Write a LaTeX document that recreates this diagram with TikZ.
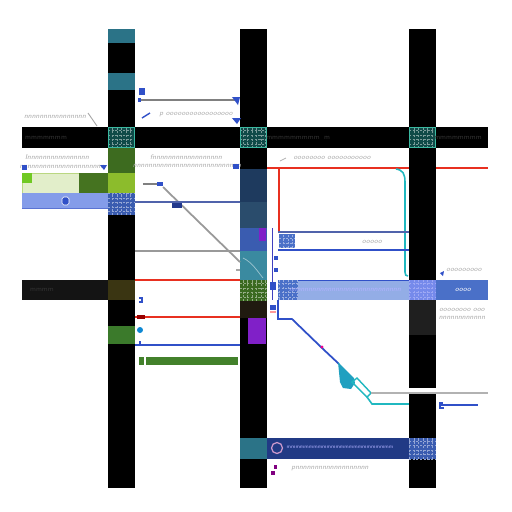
\documentclass[tikz,border=0pt]{standalone}
\usetikzlibrary{arrows.meta}
\definecolor{tealA}{HTML}{2B7387}
\definecolor{tealdk}{HTML}{0F4A48}
\definecolor{tealln}{HTML}{3AB8A0}
\definecolor{navy}{HTML}{1E3A5E}
\definecolor{navy2}{HTML}{2A4C6C}
\definecolor{bluemid}{HTML}{3A5CB0}
\definecolor{bluelt}{HTML}{93ADE6}
\definecolor{blueband}{HTML}{4A70C8}
\definecolor{bluedk}{HTML}{213A85}
\definecolor{tealB}{HTML}{3A8AA0}
\definecolor{olive}{HTML}{3A6A20}
\definecolor{browndk}{HTML}{201A10}
\definecolor{purp}{HTML}{8020C8}
\definecolor{greenA}{HTML}{3D6B1F}
\definecolor{lime}{HTML}{8CBC2C}
\definecolor{olivedk}{HTML}{3A3512}
\definecolor{greenB}{HTML}{3B7A2B}
\definecolor{redln}{HTML}{E83020}
\definecolor{cyanln}{HTML}{20B8C0}
\definecolor{tealfill}{HTML}{20A0C0}
\definecolor{lineblue}{HTML}{3050C8}
\newcommand\patcell[5]{%
  \fill[#5] (#1,#2) rectangle (#3,#4);
  \begin{scope}
  \clip (#1,#2) rectangle (#3,#4);
  \draw[white!45!#5, line width=0.3pt, dash pattern=on 1.2pt off 0.9pt] (#1,#2) grid[step=0.09cm] (#3,#4);
  \end{scope}}
\begin{document}
\begin{tikzpicture}[x=0.02cm,y=-0.02cm,
  txt/.style={font=\fontsize{4}{4.5}\selectfont\sffamily\itshape, text=gray!65, inner sep=0pt},
  dtxt/.style={font=\fontsize{4}{4.5}\selectfont\sffamily, text=gray!40!black, inner sep=0pt},
  ln/.style={line width=0.7pt}]
\useasboundingbox (0,0) rectangle (512,512);
\fill[white] (0,0) rectangle (512,512);
% columns and bands
\fill[black] (108,29) rectangle (135,488);
\fill[black] (240,29) rectangle (267,488);
\fill[black] (409,29) rectangle (436,388);
\fill[black] (409,394) rectangle (436,488);
\fill[black] (22,127) rectangle (488,148);
\fill[black!92] (22,280) rectangle (108,300);
% column A cells
\fill[tealA] (108,29) rectangle (135,43);
\fill[tealA] (108,73) rectangle (135,90);
\patcell{108}{127}{135}{148}{tealdk}
\draw[tealln,line width=0.5pt] (108.5,127.5) rectangle (134.5,147.5);
\fill[greenA] (108,148) rectangle (135,173);
\fill[lime] (108,173) rectangle (135,193);
\patcell{108}{193}{135}{215}{bluemid}
\fill[olivedk] (108,280) rectangle (135,300);
\fill[greenB] (108,326) rectangle (135,344);
% left rows
\fill[lime!25] (22,173) rectangle (79,193);
\draw[lime!60,line width=0.5pt] (22,173) rectangle (79,193);
\fill[lime!80!green] (22,173) rectangle (32,183);
\fill[greenA!90!lime] (79,173) rectangle (108,193);
\fill[bluelt!90!blue] (22,193) rectangle (108,208);
\draw[lineblue!80,line width=0.4pt] (22,208) -- (108,208);
\draw[white,fill=lineblue,rounded corners=1pt,line width=0.3pt] (62,197) rectangle (69,205);
% column B cells
\patcell{240}{127}{267}{148}{tealdk}
\draw[tealln,line width=0.5pt] (240.5,127.5) rectangle (266.5,147.5);
\fill[navy] (240,169) rectangle (267,202);
\fill[navy2] (240,202) rectangle (267,228);
\fill[bluemid] (240,228) rectangle (267,251);
\fill[purp] (259,228) rectangle (266,241);
\fill[tealB] (240,251) rectangle (267,280);
\draw[tealB!50!white,line width=0.4pt] (243,258) .. controls (252,262) and (258,272) .. (263,278);
\patcell{240}{280}{267}{301}{olive}
\fill[browndk] (240,301) rectangle (267,318);
\fill[purp] (248,318) rectangle (266,344);
\fill[tealA] (240,438) rectangle (267,459);
% column C cells
\patcell{409}{127}{436}{148}{tealdk}
\draw[tealln,line width=0.5pt] (409.5,127.5) rectangle (435.5,147.5);
\patcell{409}{280}{436}{300}{bluelt!80!blue}
\fill[black!88] (409,300) rectangle (436,335);
\patcell{409}{438}{436}{459}{bluemid}
% middle band
\fill[bluelt] (278,280) rectangle (409,300);
\draw[lineblue,line width=0.5pt] (278,280) -- (409,280);
\patcell{278}{280}{298}{300}{blueband}
\fill[blueband] (436,280) rectangle (488,300);
% bottom band
\fill[bluedk] (267,438) rectangle (409,459);
\draw[violet!40!white,line width=0.7pt] (277,448) circle (5.5);
\node[font=\fontsize{3}{3}\selectfont\sffamily, text=blue!30!white, inner sep=0pt] (bbt) at (340,447) {mmmmmmmmmmmmmmmmmmmmmmmm};
% ---- left region lines
\draw[gray,ln] (138,100) -- (236,100);
\fill[lineblue] (139,88) rectangle (145,95);
\fill[lineblue] (232,97) -- (240,97) -- (238,105) -- cycle;
\fill[lineblue] (138,98) rectangle (141,102);
\draw[lineblue,line width=0.8pt] (142,118) -- (150,113);
\fill[lineblue] (232,118) -- (241,118) -- (237,124) -- cycle;
\draw[gray!70,line width=0.5pt] (88,113) -- (97,126);
\draw[gray,ln] (143,184) -- (157,184);
\fill[lineblue] (157,182) rectangle (163,186);
\draw[gray!80,line width=1pt] (163,187) -- (240,262);
\fill[lineblue!70!black] (172,203) rectangle (182,208);
\draw[lineblue!60!gray,ln] (135,202) -- (240,202);
\draw[gray!80,ln] (135,251) -- (240,251);
\draw[redln,ln] (135,280) -- (240,280);
\draw[redln,ln] (135,317) -- (240,317);
\fill[red!60!black] (137,315) rectangle (145,319);
\draw[lineblue,ln] (135,345) -- (240,345);
\draw[lineblue,line width=0.6pt] (140,341) -- (140,345);
\fill[cyan!70!blue] (140,330) circle (3);
\draw[lineblue,line width=0.6pt] (139,298) -- (142,298) -- (142,302) -- (139,302);
\fill[greenB!90!lime] (139,357) rectangle (144,365);
\fill[greenB!90!lime] (146,357) rectangle (238,365);
\fill[gray!70] (236,269) rectangle (240,271);
% ---- right region lines
\draw[redln,ln] (267,168) -- (409,168);
\draw[redln,ln] (436,168) -- (488,168);
\draw[redln,ln] (279,168) -- (279,232);
\draw[cyanln,line width=0.9pt] (396,169) .. controls (403,170) and (405,174) .. (405,182) -- (405,272) .. controls (405,275) and (406,276) .. (408,276);
\draw[lineblue!60!gray,ln] (278,232) -- (409,232);
\draw[lineblue,line width=0.9pt] (278,250) -- (409,250);
\patcell{279}{234}{295}{248}{blueband}
\draw[gray!50!blue,line width=0.4pt] (272,228) -- (272,300);
\fill[lineblue] (274,256) rectangle (278,260);
\fill[lineblue] (274,268) rectangle (278,272);
\fill[lineblue] (270,282) rectangle (276,290);
\fill[lineblue] (270,305) rectangle (276,310);
\fill[red!40] (270,311) rectangle (276,313);
\draw[lineblue,line width=1pt] (278,300) -- (278,319) -- (292,319) -- (322,348) -- (339,364);
\fill[magenta] (322,347) circle (1.6);
\fill[tealfill] (338,362) -- (354,378) -- (355,383) -- (351,389) -- (343,388) -- (340,382) -- cycle;
\draw[cyanln,line width=0.8pt] (352,382) -- (357,378) -- (371,393) -- (367,397) -- cycle;
\draw[cyanln,line width=0.9pt] (367,397) -- (372,404) -- (409,404);
\draw[gray!60,line width=0.8pt] (371,393) -- (488,393);
\draw[lineblue,ln] (440,405) -- (478,405);
\draw[lineblue,line width=0.6pt] (443,403) -- (440,403) -- (440,408) -- (444,408);
\fill[lineblue] (440,273) -- (444,271) -- (443,276) -- cycle;
\fill[violet] (274,465) rectangle (277,469);
\fill[violet] (271,471) rectangle (275,475);
% ---- texts
\node[txt] (t1) at (55,117) {nnnnnnnnnnnnnnnn};
\node[dtxt] (t2) at (43,138) {mmmmmm};
\node[dtxt] (t2b) at (64,138) {m};
\node[dtxt] (t3) at (293,138) {mmmmmmmmm};
\node[dtxt] (t3b) at (327,138) {m};
\node[dtxt] (t4) at (458,138) {mmmmmmmm};
\node[txt] (t5) at (57,157) {Innnnnnnnnnnnnnnn};
\node[txt] (t6) at (62,167) {nnnnnnnnnnnnnnnnnnnnnn};
\fill[lineblue] (22,165) rectangle (27,170);
\fill[lineblue] (100,165) -- (107,165) -- (104,170) -- cycle;
\node[txt] (t7) at (196,115) {p ooooooooooooooooo};
\node[txt] (t8) at (186,157) {fnnnnnnnnnnnnnnnnnn};
\node[txt] (t9) at (187,166) {nnnnnnnnnnnnnnnnnnnnnnnnnnnn};
\fill[lineblue] (233,164) rectangle (239,169);
\node[txt] (t10) at (332,158) {oooooooo ooooooooooo};
\draw[gray!60,line width=0.5pt] (280,161) -- (286,158);
\node[txt] (t11) at (372,242) {ooooo};
\node[txt] (t12) at (464,270) {ooooooooo};
\node[txt] (t13) at (462,310) {oooooooo ooo};
\node[txt] (t14) at (462,318) {nnnnnnnnnnnn};
\node[txt, text=white] (t15) at (463,290) {oooo};
\node[txt] (t16) at (330,469) {pnnnnnnnnnnnnnnnnnnn};
\node[dtxt] (t17) at (42,290) {mmmm};
\node[txt, text=white!70!blue] (t18) at (345,290) {nnnnnnnnnnnnnnnnnnnnnnnnnnnnn};
\end{tikzpicture}
\end{document}
